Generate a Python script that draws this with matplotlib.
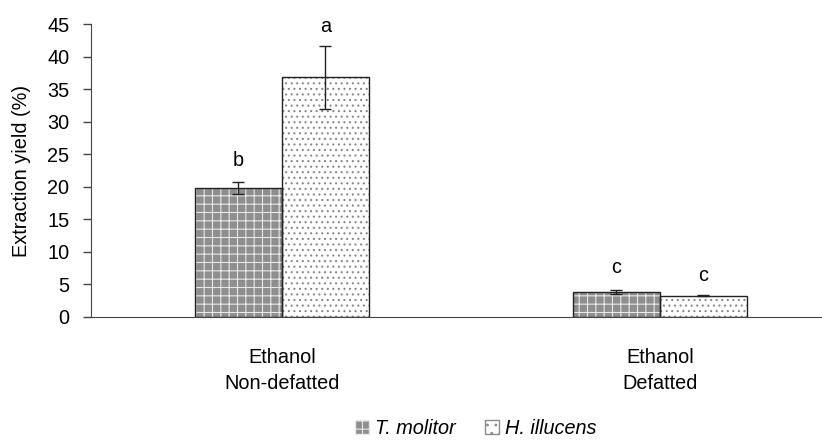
import matplotlib
matplotlib.use("Agg")
import matplotlib.pyplot as plt
import numpy as np
from matplotlib.patches import Patch

plt.rcParams['font.family'] = ['Liberation Sans', 'DejaVu Sans']
plt.rcParams['hatch.linewidth'] = 0.8

categories = ["Ethanol\nNon-defatted", "Ethanol\nDefatted"]
series_names = ["T. molitor", "H. illucens"]
t_molitor = [19.8, 3.9]
t_molitor_err = [0.9, 0.3]
h_illucens = [36.8, 3.3]
h_illucens_err = [4.8, 0.1]
t_letters = ["b", "c"]
h_letters = ["a", "c"]
yticks = [0, 5, 10, 15, 20, 25, 30, 35, 40, 45]

FS = 14.3
fig = plt.figure(figsize=(8.22, 4.41), dpi=100)
ax = fig.add_axes([91/822, 1-317/441, 1-91/822, (317-24)/441])

x = np.arange(len(categories))
w = 0.23
T_FACE = '#8e8e8e'
b1 = ax.bar(x - w/2, t_molitor, w, color=T_FACE, edgecolor='#e8e8e8', linewidth=0,
            hatch='++', label=series_names[0])
b2 = ax.bar(x + w/2, h_illucens, w, color='white', edgecolor='#8a8a8a', linewidth=0,
            hatch='...', label=series_names[1])
for p in list(b1) + list(b2):
    ax.bar(p.get_x() + p.get_width()/2, p.get_height(), p.get_width(), color='none',
           edgecolor='#222222', linewidth=1.0)

ax.errorbar(x - w/2, t_molitor, yerr=t_molitor_err, fmt='none', ecolor='#222222',
            elinewidth=1, capsize=4, capthick=1)
ax.errorbar(x + w/2, h_illucens, yerr=h_illucens_err, fmt='none', ecolor='#222222',
            elinewidth=1, capsize=4, capthick=1)

for xi, v, e, l in zip(x - w/2, t_molitor, t_molitor_err, t_letters):
    ax.text(xi, v + e + 3.4, l, ha='center', va='center', fontsize=FS)
for xi, v, e, l in zip(x + w/2, h_illucens, h_illucens_err, h_letters):
    ax.text(xi, v + e + 3.0, l, ha='center', va='center', fontsize=FS)

ax.set_ylim(0, 45)
ax.set_yticks(yticks)
ax.set_xlim(-0.505, 1 + (822 - 660) / 378)
ax.set_xticks(x)
ax.set_xticklabels(categories, fontsize=FS, linespacing=1.5)
ax.tick_params(axis='x', length=0, pad=22)
ax.tick_params(axis='y', labelsize=FS, length=5.5, width=1, direction='out',
               color='#444444', pad=10)
ax.spines['top'].set_visible(False)
ax.spines['right'].set_visible(False)
ax.spines['left'].set_color('#444444')
ax.spines['bottom'].set_color('#444444')
ax.set_ylabel("Extraction yield (%)", fontsize=FS, labelpad=12)

handles = [Patch(facecolor=T_FACE, edgecolor='#e8e8e8', hatch='++', label=series_names[0]),
           Patch(facecolor='white', edgecolor='#8a8a8a', hatch='..', label=series_names[1])]
fig.legend(handles=handles, loc='center', bbox_to_anchor=(476/822, 1-428/441), ncol=2,
           frameon=False, handlelength=0.7, handleheight=0.7,
           handletextpad=0.3, columnspacing=1.5, prop={'style': 'italic', 'size': FS})

fig.savefig("out.png", dpi=100)
